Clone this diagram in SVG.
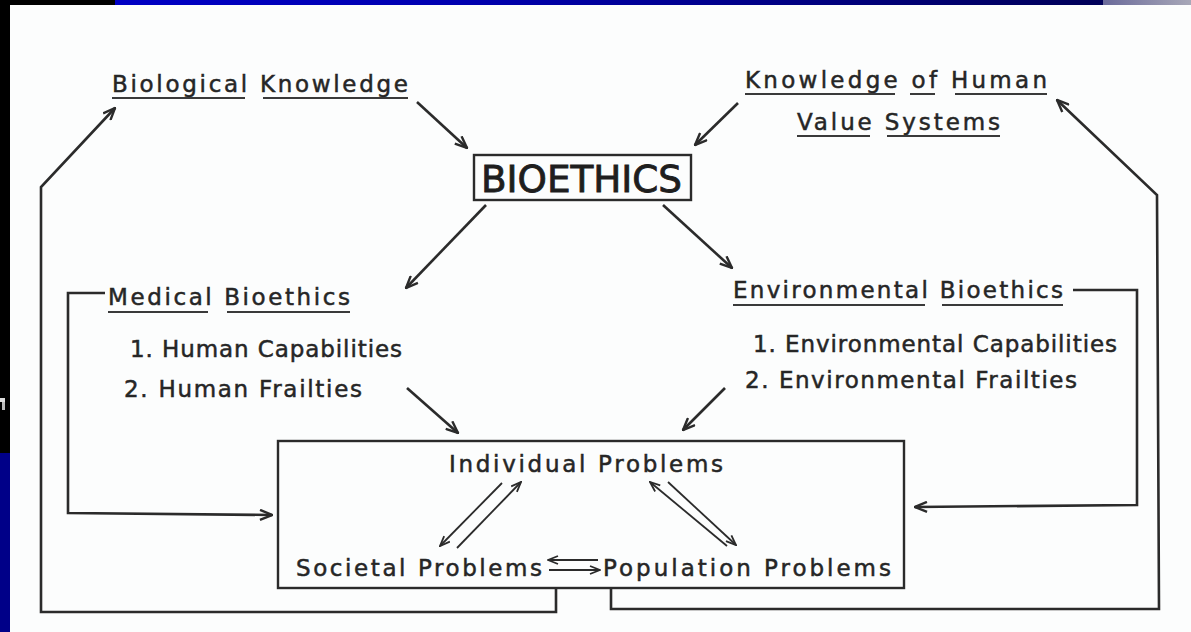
<svg xmlns="http://www.w3.org/2000/svg" width="1191" height="632" viewBox="0 0 1191 632">
  <defs>
    <linearGradient id="bandBlue" x1="0" y1="0" x2="1" y2="0">
      <stop offset="0" stop-color="#0000c4"/>
      <stop offset="0.35" stop-color="#0000b0"/>
      <stop offset="1" stop-color="#000058"/>
    </linearGradient>
    <linearGradient id="bandGray" x1="0" y1="0" x2="1" y2="0">
      <stop offset="0" stop-color="#6a6a9a"/>
      <stop offset="1" stop-color="#a8a8b8"/>
    </linearGradient>
    <marker id="head" viewBox="0 0 14 12" refX="13" refY="6" markerWidth="14" markerHeight="12" markerUnits="userSpaceOnUse" orient="auto">
      <path d="M1,1 L13,6 L1,11" fill="none" stroke="#2b2b2b" stroke-width="2.4"/>
    </marker>
    <marker id="smallHead" viewBox="0 0 12 10" refX="11" refY="5" markerWidth="12" markerHeight="10" markerUnits="userSpaceOnUse" orient="auto">
      <path d="M1,1 L11,5 L1,9" fill="none" stroke="#2b2b2b" stroke-width="1.8"/>
    </marker>
  </defs>
  <style>
    .lbl { font-family: "DejaVu Sans", "Liberation Sans", sans-serif; font-size: 23px; fill: #262626; stroke: #262626; stroke-width: 0.5; }
    .big { font-family: "DejaVu Sans", "Liberation Sans", sans-serif; font-size: 38px; fill: #1e1e1e; stroke: #1e1e1e; stroke-width: 0.9; }
    .ul { stroke: #3a3a3a; stroke-width: 2; }
    .wire { fill: none; stroke: #2b2b2b; stroke-width: 2.6; stroke-linejoin: miter; }
    .thin { fill: none; stroke: #2b2b2b; stroke-width: 1.8; }
    .box { fill: none; stroke: #2b2b2b; stroke-width: 2.4; }
  </style>

  <!-- page and slide frame -->
  <rect x="0" y="0" width="1191" height="632" fill="#fcfdfd"/>
  <rect x="0" y="0" width="115" height="5" fill="#000"/>
  <rect x="115" y="0" width="988" height="5" fill="url(#bandBlue)"/>
  <rect x="1103" y="0" width="88" height="5" fill="url(#bandGray)"/>
  <rect x="0" y="0" width="10" height="453" fill="#000"/>
  <rect x="0" y="453" width="10" height="179" fill="#000088"/>
  <rect x="0" y="398" width="5" height="4" fill="#ddd"/>
  <rect x="2" y="402" width="3" height="8" fill="#bbb"/>

  <!-- top sources -->
  <g id="biological-knowledge">
    <text class="lbl" x="112" y="92" textLength="296" lengthAdjust="spacing">Biological Knowledge</text>
    <line class="ul" x1="112" y1="98" x2="245" y2="98"/>
    <line class="ul" x1="263" y1="98" x2="408" y2="98"/>
  </g>
  <g id="human-values">
    <text class="lbl" x="745" y="88" textLength="302" lengthAdjust="spacing">Knowledge of Human</text>
    <line class="ul" x1="745" y1="94" x2="895" y2="94"/>
    <line class="ul" x1="910" y1="94" x2="935" y2="94"/>
    <line class="ul" x1="955" y1="94" x2="1047" y2="94"/>
    <text class="lbl" x="797" y="130" textLength="203" lengthAdjust="spacing">Value Systems</text>
    <line class="ul" x1="797" y1="136" x2="870" y2="136"/>
    <line class="ul" x1="887" y1="136" x2="1000" y2="136"/>
  </g>

  <!-- central node -->
  <g id="bioethics">
    <rect class="box" x="474" y="155" width="217" height="45" stroke-width="3"/>
    <text class="big" x="481" y="192" textLength="201" lengthAdjust="spacingAndGlyphs">BIOETHICS</text>
  </g>

  <!-- branches -->
  <g id="medical-bioethics">
    <text class="lbl" x="108" y="305" textLength="242" lengthAdjust="spacing">Medical Bioethics</text>
    <line class="ul" x1="108" y1="312" x2="208" y2="312"/>
    <line class="ul" x1="227" y1="312" x2="350" y2="312"/>
    <text class="lbl" x="130" y="357" textLength="272" lengthAdjust="spacing">1. Human Capabilities</text>
    <text class="lbl" x="124" y="397" textLength="238" lengthAdjust="spacing">2. Human Frailties</text>
  </g>
  <g id="environmental-bioethics">
    <text class="lbl" x="733" y="298" textLength="330" lengthAdjust="spacing">Environmental Bioethics</text>
    <line class="ul" x1="733" y1="305" x2="925" y2="305"/>
    <line class="ul" x1="942" y1="305" x2="1063" y2="305"/>
    <text class="lbl" x="753" y="352" textLength="364" lengthAdjust="spacing">1. Environmental Capabilities</text>
    <text class="lbl" x="745" y="388" textLength="332" lengthAdjust="spacing">2. Environmental Frailties</text>
  </g>

  <!-- problems box -->
  <g id="problems">
    <rect class="box" x="278" y="441" width="626" height="147"/>
    <text class="lbl" x="449" y="472" textLength="274" lengthAdjust="spacing">Individual Problems</text>
    <text class="lbl" x="296" y="576" textLength="246" lengthAdjust="spacing">Societal Problems</text>
    <text class="lbl" x="603" y="576" textLength="288" lengthAdjust="spacing">Population Problems</text>
  </g>

  <!-- connectors -->
  <g id="connectors">
    <line class="wire" x1="417" y1="102" x2="467" y2="148" marker-end="url(#head)"/>
    <line class="wire" x1="738" y1="103" x2="695" y2="145" marker-end="url(#head)"/>
    <line class="wire" x1="486" y1="205" x2="406" y2="288" marker-end="url(#head)"/>
    <line class="wire" x1="663" y1="205" x2="732" y2="268" marker-end="url(#head)"/>
    <line class="wire" x1="407" y1="388" x2="458" y2="433" marker-end="url(#head)"/>
    <line class="wire" x1="725" y1="388" x2="683" y2="430" marker-end="url(#head)"/>

    <!-- feedback loops -->
    <polyline class="wire" points="105,293 68,293 68,513 272,515" marker-end="url(#head)"/>
    <polyline class="wire" points="1073,290 1137,290 1137,505 915,507" marker-end="url(#head)"/>
    <polyline class="wire" points="556,588 556,612 41,612 41,187 115,108" marker-end="url(#head)"/>
    <polyline class="wire" points="611,588 611,609 1159,609 1157,195 1057,100" marker-end="url(#head)"/>

    <!-- exchanges between problem types -->
    <line class="thin" x1="502" y1="483" x2="440" y2="546" marker-end="url(#smallHead)"/>
    <line class="thin" x1="457" y1="548" x2="521" y2="482" marker-end="url(#smallHead)"/>
    <line class="thin" x1="668" y1="482" x2="736" y2="545" marker-end="url(#smallHead)"/>
    <line class="thin" x1="727" y1="546" x2="650" y2="482" marker-end="url(#smallHead)"/>
    <line class="thin" x1="598" y1="560" x2="548" y2="560" marker-end="url(#smallHead)"/>
    <line class="thin" x1="549" y1="570" x2="600" y2="570" marker-end="url(#smallHead)"/>
  </g>
</svg>
